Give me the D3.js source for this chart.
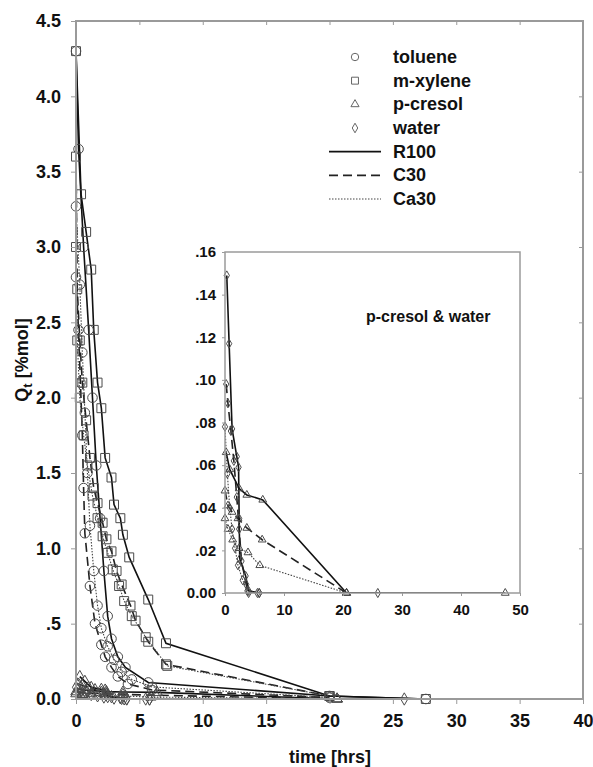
<!DOCTYPE html>
<html>
<head>
<meta charset="utf-8">
<script src="https://cdn.jsdelivr.net/npm/d3@7"></script>
<style>
  body { margin: 0; background: #fff; }
  text { font-family: "Liberation Sans", Arial, sans-serif; font-weight: bold; fill: #111; }
</style>
</head>
<body>
<script>
// time [hrs], Qt [%mol]
var tolR100  = [[0,4.3],[0.2,3.65],[0.6,3.0],[1.0,2.45],[1.3,2.0],[1.6,1.55],[1.9,1.2],[2.2,0.85],[2.5,0.55],[2.8,0.4],[3.3,0.28],[3.9,0.21],[5.7,0.11],[20,0.02],[27.6,0.0]];
var tolC30   = [[0,2.8],[0.2,2.45],[0.35,2.1],[0.5,1.75],[0.6,1.4],[0.7,1.1],[1.1,0.75],[1.5,0.5],[2.0,0.36],[2.3,0.28],[2.8,0.21],[3.3,0.15],[4.1,0.1],[6.0,0.06],[20,0.01]];
var tolCa30  = [[0,3.27],[0.3,2.75],[0.5,2.3],[0.7,1.9],[0.9,1.5],[1.1,1.15],[1.4,0.85],[1.7,0.62],[2.0,0.47],[2.5,0.35],[3.0,0.26],[3.6,0.18],[4.4,0.13],[6.0,0.08],[20,0.01]];
var xylR100  = [[0,4.3],[0.4,3.35],[0.8,3.1],[1.2,2.85],[1.4,2.45],[1.7,2.1],[2.0,1.93],[2.3,1.6],[2.8,1.47],[3.0,1.29],[3.5,1.2],[3.7,1.09],[4.2,0.94],[5.7,0.66],[7.1,0.37],[20,0.02],[27.6,0.0]];
var xylC30   = [[0,3.6],[0.1,2.72],[0.3,2.38],[0.5,2.1],[0.8,1.85],[1.1,1.6],[1.4,1.4],[1.7,1.3],[2.1,1.17],[2.4,1.06],[2.8,0.98],[3.2,0.85],[3.6,0.76],[4.3,0.62],[4.7,0.52],[5.7,0.38],[7.1,0.23],[20,0.02]];
var xylCa30  = [[0,3.0],[0.1,2.38],[0.3,2.0],[0.6,1.75],[0.9,1.55],[1.3,1.35],[1.7,1.2],[2.1,1.08],[2.5,0.97],[2.9,0.86],[3.4,0.75],[3.8,0.65],[4.4,0.55],[5.5,0.41],[7.2,0.22],[20,0.02]];
var creR100  = [[0.2,0.066],[0.8,0.058],[2.4,0.049],[3.7,0.046],[6.4,0.0437],[20.6,0],[47.5,0]];
var creC30   = [[0,0.048],[0.5,0.041],[1.2,0.038],[2.2,0.035],[3.7,0.0305],[6.3,0.025],[20.6,0]];
var creCa30  = [[0,0.035],[0.5,0.03],[1.3,0.025],[2.4,0.021],[3.9,0.019],[5.9,0.013],[20.6,0]];
var watR100  = [[0.3,0.149],[0.7,0.117],[1.2,0.077],[2.0,0.064],[2.3,0.059],[2.4,0.035],[2.5,0.016],[3.5,0.008],[4.0,0.001],[5.8,0],[25.9,0]];
var watC30   = [[0.2,0.098],[0.5,0.089],[1.0,0.076],[1.5,0.062],[2.0,0.045],[2.4,0.03],[2.8,0.015],[3.6,0.004],[4.0,0],[5.8,0]];
var watCa30  = [[0,0.078],[0.4,0.056],[0.8,0.04],[1.2,0.03],[1.7,0.021],[2.2,0.013],[3.0,0.006],[3.8,0.001],[5.5,0]];

var compounds = ["toluene", "m-xylene", "p-cresol", "water"];
var sorbents = ["R100", "C30", "Ca30"];
var mainXTicks = [0,5,10,15,20,25,30,35,40];
var mainYTicks = [0,0.5,1,1.5,2,2.5,3,3.5,4,4.5];
var insetXTicks = [0,10,20,30,40,50];
var insetYTicks = [0,0.02,0.04,0.06,0.08,0.10,0.12,0.14,0.16];
var insetTitle = "p-cresol & water";

var series = [
  {c:"toluene", s:"R100", d:tolR100}, {c:"toluene", s:"C30", d:tolC30}, {c:"toluene", s:"Ca30", d:tolCa30},
  {c:"m-xylene", s:"R100", d:xylR100}, {c:"m-xylene", s:"C30", d:xylC30}, {c:"m-xylene", s:"Ca30", d:xylCa30},
  {c:"p-cresol", s:"R100", d:creR100}, {c:"p-cresol", s:"C30", d:creC30}, {c:"p-cresol", s:"Ca30", d:creCa30},
  {c:"water", s:"R100", d:watR100}, {c:"water", s:"C30", d:watC30}, {c:"water", s:"Ca30", d:watCa30}
];

var symType = {"toluene": d3.symbolCircle, "m-xylene": d3.symbolSquare, "p-cresol": d3.symbolTriangle, "water": d3.symbolDiamond};
var symSize = {"toluene": 72, "m-xylene": 80, "p-cresol": 48, "water": 44};
var lineStyle = {
  "R100": {dash: null, w: 1.6, col: "#111"},
  "C30": {dash: "9,5", w: 1.6, col: "#222"},
  "Ca30": {dash: "1.5,1.5", w: 1.1, col: "#444"}
};

var width = 593, height = 767;
var svg = d3.select("body").append("svg").attr("width", width).attr("height", height);
var frameCol = "#9a9a9a";

function fmt(digits) {
  return function(d) {
    var s = d.toFixed(digits);
    return d === 0 ? s : s.replace(/^0\./, ".");
  };
}

// draws one panel: frame, ticks, series
function panel(g, x, y, o) {
  var id = o.id;
  g.append("clipPath").attr("id", id).append("rect")
    .attr("x", x.range()[0]).attr("y", y.range()[1])
    .attr("width", x.range()[1] - x.range()[0]).attr("height", y.range()[0] - y.range()[1]);

  if (o.fill) {
    g.append("rect").attr("x", x.range()[0]).attr("y", y.range()[1])
      .attr("width", x.range()[1] - x.range()[0]).attr("height", y.range()[0] - y.range()[1])
      .attr("fill", "#fff");
  }

  var line = d3.line().x(function(d) { return x(d[0]); }).y(function(d) { return y(d[1]); });

  var lines = g.append("g").attr("clip-path", "url(#" + id + ")");
  o.series.forEach(function(sr) {
    var st = lineStyle[sr.s];
    lines.append("path").datum(sr.d).attr("d", line)
      .attr("fill", "none").attr("stroke", st.col).attr("stroke-width", st.w)
      .attr("stroke-dasharray", st.dash);
  });

  var marks = g.append("g");
  o.series.forEach(function(sr) {
    var sym = d3.symbol().type(symType[sr.c]).size(symSize[sr.c] * o.ms);
    marks.selectAll(null)
      .data(sr.d.filter(function(d) { return d[0] <= x.domain()[1] && d[1] <= y.domain()[1]; }))
      .enter().append("path")
      .attr("d", sym)
      .attr("transform", function(d) { return "translate(" + x(d[0]) + "," + y(d[1]) + ")"; })
      .attr("fill", "none").attr("stroke", "#4a4a4a").attr("stroke-width", 1);
  });

  // frame
  var fr = g.append("g").attr("stroke", frameCol).attr("fill", "none");
  fr.append("rect").attr("x", x.range()[0]).attr("y", y.range()[1])
    .attr("width", x.range()[1] - x.range()[0]).attr("height", y.range()[0] - y.range()[1])
    .attr("stroke-width", o.fw);

  var xa = g.append("g").attr("transform", "translate(0," + y.range()[0] + ")")
    .call(d3.axisBottom(x).tickValues(o.xt).tickSize(o.tk).tickPadding(o.xpad).tickFormat(d3.format("d")));
  var ya = g.append("g").attr("transform", "translate(" + x.range()[0] + ",0)")
    .call(d3.axisLeft(y).tickValues(o.yt).tickSize(o.tk).tickPadding(o.ypad).tickFormat(fmt(o.yd)));
  [xa, ya].forEach(function(a) {
    a.select(".domain").remove();
    a.selectAll(".tick line").attr("stroke", frameCol);
    a.selectAll("text").attr("font-size", o.fs).attr("font-family", "Liberation Sans, Arial, sans-serif")
      .attr("font-weight", "bold").attr("fill", "#111");
  });
  if (o.inner) {
    g.append("g").attr("transform", "translate(0," + y.range()[1] + ")")
      .call(d3.axisBottom(x).tickValues(o.xt).tickSize(4).tickFormat(""))
      .call(function(a) { a.select(".domain").remove(); a.selectAll("line").attr("stroke", frameCol); });
    g.append("g").attr("transform", "translate(" + x.range()[1] + ",0)")
      .call(d3.axisLeft(y).tickValues(o.yt).tickSize(4).tickFormat(""))
      .call(function(a) { a.select(".domain").remove(); a.selectAll("line").attr("stroke", frameCol); });
  }
}

// main plot
var x = d3.scaleLinear().domain([0, 40]).range([76, 583]);
var y = d3.scaleLinear().domain([0, 4.5]).range([699, 21]);
panel(svg.append("g"), x, y, {id: "clipMain", series: series, ms: 1, fw: 2, tk: 5, xpad: 10, ypad: 10,
  xt: mainXTicks, yt: mainYTicks, yd: 1, fs: 18, inner: true, fill: false});

// inset: p-cresol and water
var ix = d3.scaleLinear().domain([0, 50]).range([225, 520]);
var iy = d3.scaleLinear().domain([0, 0.16]).range([593, 252]);
var insetSeries = series.filter(function(sr) { return sr.c === "p-cresol" || sr.c === "water"; });
panel(svg.append("g"), ix, iy, {id: "clipInset", series: insetSeries, ms: 0.55, fw: 1.5, tk: 3, xpad: 8, ypad: 6,
  xt: insetXTicks, yt: insetYTicks, yd: 2, fs: 15, inner: false, fill: true});

svg.append("text").attr("x", 366).attr("y", 322).attr("font-size", 16).text(insetTitle);

// axis titles
svg.append("text").attr("x", 330).attr("y", 763).attr("text-anchor", "middle").attr("font-size", 18).text("time [hrs]");
var yt = svg.append("text").attr("transform", "translate(28,360) rotate(-90)").attr("text-anchor", "middle").attr("font-size", 18);
yt.append("tspan").text("Q");
yt.append("tspan").attr("font-size", 13).attr("dy", 4).text("t");
yt.append("tspan").attr("dy", -4).text(" [%mol]");

// legend
var leg = svg.append("g");
var rowY = d3.scaleLinear().domain([0, 6]).range([57, 199]);
compounds.forEach(function(c, i) {
  leg.append("path").attr("d", d3.symbol().type(symType[c]).size(symSize[c] * 0.6)())
    .attr("transform", "translate(355," + rowY(i) + ")")
    .attr("fill", "none").attr("stroke", "#666").attr("stroke-width", 1);
  leg.append("text").attr("x", 393).attr("y", rowY(i) + 6).attr("font-size", 18).text(c);
});
sorbents.forEach(function(s, j) {
  var i = j + 4, st = lineStyle[s];
  leg.append("line").attr("x1", 329).attr("x2", 381).attr("y1", rowY(i)).attr("y2", rowY(i))
    .attr("stroke", st.col).attr("stroke-width", st.w).attr("stroke-dasharray", st.dash);
  leg.append("text").attr("x", 393).attr("y", rowY(i) + 6).attr("font-size", 18).text(s);
});
</script>
</body>
</html>
